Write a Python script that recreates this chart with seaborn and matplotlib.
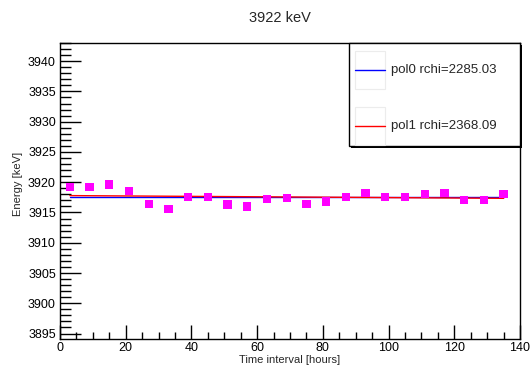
import numpy as np
import pandas as pd
import matplotlib
matplotlib.use("Agg")
import matplotlib.pyplot as plt
import seaborn as sns
from matplotlib.patches import Rectangle
from matplotlib.lines import Line2D
from matplotlib.ticker import MultipleLocator

# ---- data ----
hours = [3, 9, 15, 21, 27, 33, 39, 45, 51, 57, 63, 69, 75, 81, 87, 93, 99, 105,
         111, 117, 123, 129, 135]
energy = [3919.2, 3919.2, 3919.6, 3918.6, 3916.4, 3915.6, 3917.6, 3917.6, 3916.3,
          3916.0, 3917.2, 3917.4, 3916.4, 3916.8, 3917.6, 3918.2, 3917.6, 3917.6,
          3918.1, 3918.2, 3917.1, 3917.1, 3918.1]
pol0_const = 3917.55
pol1_intercept = 3917.80
pol1_slope = -0.0034
legend_labels = ["pol0 rchi=2285.03", "pol1 rchi=2368.09"]
title_text = "3922 keV"
x_label = "Time interval [hours]"
y_label = "Energy [keV]"

sns.set_style("white")
plt.rcParams["font.family"] = ["Liberation Sans", "DejaVu Sans"]

W, H = 531, 365
fig = plt.figure(figsize=(W / 100, H / 100), dpi=100)

def fx(px):
    return px / W

def fy(py):
    return 1 - py / H

L, R, T, B = 60, 520, 43, 339
ax = fig.add_axes([fx(L), fy(B), fx(R) - fx(L), fy(T) - fy(B)])

df = pd.DataFrame({"hours": hours, "energy": energy})
xfit = np.array([min(hours), max(hours)])
fit_df = pd.DataFrame({
    "x": np.concatenate([xfit, xfit]),
    "y": np.concatenate([np.full(2, pol0_const), pol1_intercept + pol1_slope * xfit]),
    "fit": ["pol0", "pol0", "pol1", "pol1"],
})
sns.lineplot(data=fit_df, x="x", y="y", hue="fit", palette={"pol0": "#0000ff", "pol1": "#ff0000"},
             linewidth=1.0, ax=ax, legend=False, zorder=2)
sns.scatterplot(data=df, x="hours", y="energy", marker="s", color="#ff00ff", s=36,
                edgecolor="none", linewidth=0, ax=ax, zorder=3)

ax.set_xlim(0, 140)
ax.set_ylim(3894.1, 3943.0)
ax.xaxis.set_major_locator(MultipleLocator(20))
ax.xaxis.set_minor_locator(MultipleLocator(5))
ax.yaxis.set_major_locator(MultipleLocator(5))
ax.yaxis.set_minor_locator(MultipleLocator(1))
ax.tick_params(axis="both", which="both", direction="in", colors="black",
               labelsize=9, width=1.0, bottom=True, left=True, top=False, right=False)
ax.tick_params(axis="y", which="major", length=15, pad=3)
ax.tick_params(axis="y", which="minor", length=8)
ax.tick_params(axis="x", which="major", length=10, pad=2)
ax.tick_params(axis="x", which="minor", length=5)
for s in ax.spines.values():
    s.set_color("black")
    s.set_linewidth(1.0)
ax.set_xlabel(x_label, fontsize=8, labelpad=1)
ax.set_ylabel(y_label, fontsize=8)
ax.yaxis.set_label_coords((23 - L) / (R - L), 0.524)

fig.text(fx(280), fy(18), title_text, ha="center", va="center", fontsize=10.5)

# legend box (ROOT style with shadow)
lx0, lx1, ly0, ly1 = 349, 520, 43, 146
shadow = Rectangle((fx(lx0 + 1.5), fy(ly1 + 1.5)), fx(lx1) - fx(lx0), fy(ly0) - fy(ly1),
                   transform=fig.transFigure, facecolor="black", edgecolor="black", lw=0, zorder=4)
fig.add_artist(shadow)
box = Rectangle((fx(lx0), fy(ly1)), fx(lx1) - fx(lx0), fy(ly0) - fy(ly1),
                transform=fig.transFigure, facecolor="white", edgecolor="black", lw=1.0, zorder=5)
fig.add_artist(box)
for i, (lab, col) in enumerate(zip(legend_labels, ["#0000ff", "#ff0000"])):
    cy = 70 + i * 56
    gb = Rectangle((fx(355), fy(cy + 19)), fx(385) - fx(355), fy(cy - 19) - fy(cy + 19),
                   transform=fig.transFigure, facecolor="none", edgecolor="#ececec", lw=0.8, zorder=6)
    fig.add_artist(gb)
    fig.add_artist(Line2D([fx(355), fx(385)], [fy(cy), fy(cy)], transform=fig.transFigure,
                          color=col, lw=1.0, zorder=7))
    fig.text(fx(391), fy(cy), lab, ha="left", va="center", fontsize=9.5, zorder=8)

fig.savefig("out.png", dpi=100)
